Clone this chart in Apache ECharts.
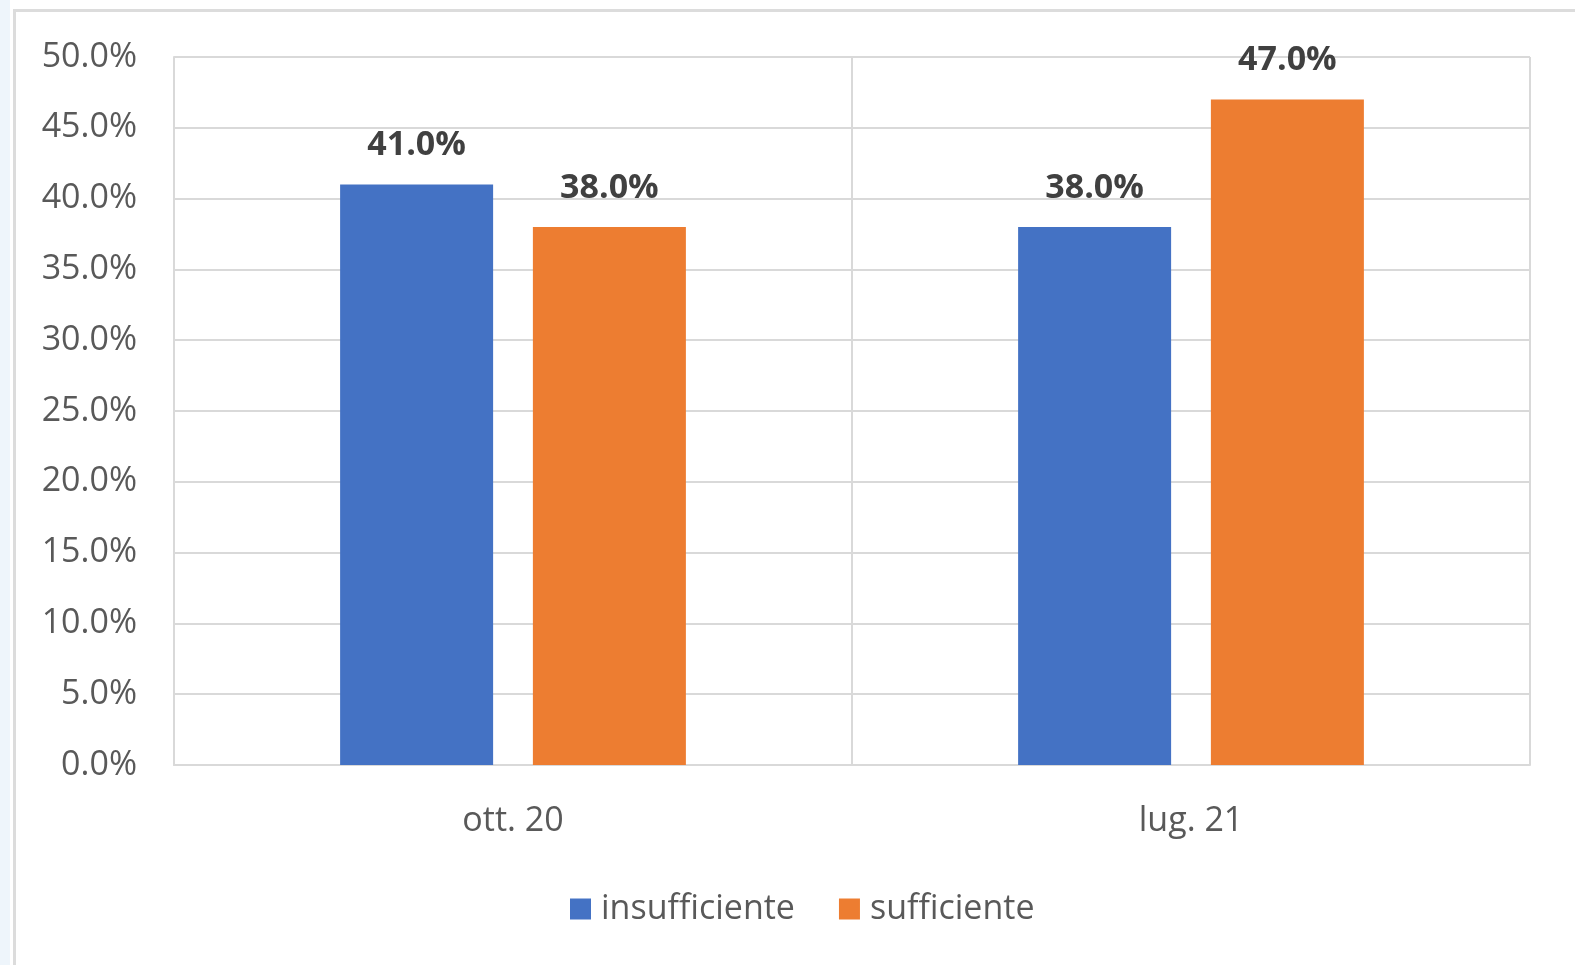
<!DOCTYPE html>
<html>
<head>
<meta charset="utf-8">
<script src="https://cdn.jsdelivr.net/npm/echarts@6/dist/echarts.min.js"></script>
<style>
  html, body { margin: 0; padding: 0; background: #fff; }
  #chart { width: 1575px; height: 965px; }
</style>
</head>
<body>
<div id="chart"></div>
<script>
// Data
const categories = ['ott. 20', 'lug. 21'];
const insufficiente = [41.0, 38.0];
const sufficiente = [38.0, 47.0];
const yTicks = { min: 0, max: 50, interval: 5 };

const gridColor = '#d9d9d9';
const textColor = '#595959';
const font = '"Open Sans", "Noto Sans", sans-serif';

const chart = echarts.init(document.getElementById('chart'));

const barLabel = {
    show: true,
    position: 'top',
    distance: 22,
    formatter: p => p.value.toFixed(1) + '%',
    fontFamily: font,
    fontSize: 34,
    fontWeight: 'bold',
    color: '#404040'
};

chart.setOption({
    animation: false,
    graphic: [
        // outer frame of the original picture
        { type: 'rect', left: 0, top: 0, shape: { width: 10, height: 965 }, style: { fill: '#eef5fb' } },
        { type: 'rect', left: 12, top: 8, shape: { width: 1600, height: 1000 }, style: { fill: 'none', stroke: '#dcdcdc', lineWidth: 3 } }
    ],
    grid: { left: 174, right: 45, top: 57, bottom: 200 },
    legend: {
        bottom: 34,
        left: 565,
        itemWidth: 21,
        itemHeight: 21,
        itemGap: 44,
        icon: 'rect',
        textStyle: { fontFamily: font, fontSize: 34, color: textColor, padding: [0, 0, 0, 5] },
        data: ['insufficiente', 'sufficiente']
    },
    xAxis: {
        type: 'category',
        data: categories,
        axisLine: { show: true, lineStyle: { color: gridColor, width: 2 } },
        axisTick: { show: false },
        splitLine: { show: true, lineStyle: { color: gridColor, width: 2 } },
        axisLabel: { fontFamily: font, fontSize: 34, color: textColor, margin: 39 }
    },
    yAxis: {
        type: 'value',
        min: yTicks.min,
        max: yTicks.max,
        interval: yTicks.interval,
        axisLine: { show: true, lineStyle: { color: gridColor, width: 2 } },
        axisTick: { show: false },
        splitLine: { show: true, lineStyle: { color: gridColor, width: 2 } },
        axisLabel: {
            fontFamily: font, fontSize: 34, color: textColor, margin: 37,
            formatter: v => v.toFixed(1) + '%'
        }
    },
    series: [
        {
            name: 'insufficiente',
            type: 'bar',
            data: insufficiente,
            barWidth: 153,
            barGap: '26%',
            itemStyle: { color: '#4472c4' },
            label: barLabel
        },
        {
            name: 'sufficiente',
            type: 'bar',
            data: sufficiente,
            barWidth: 153,
            itemStyle: { color: '#ed7d31' },
            label: barLabel
        }
    ]
});
</script>
</body>
</html>
